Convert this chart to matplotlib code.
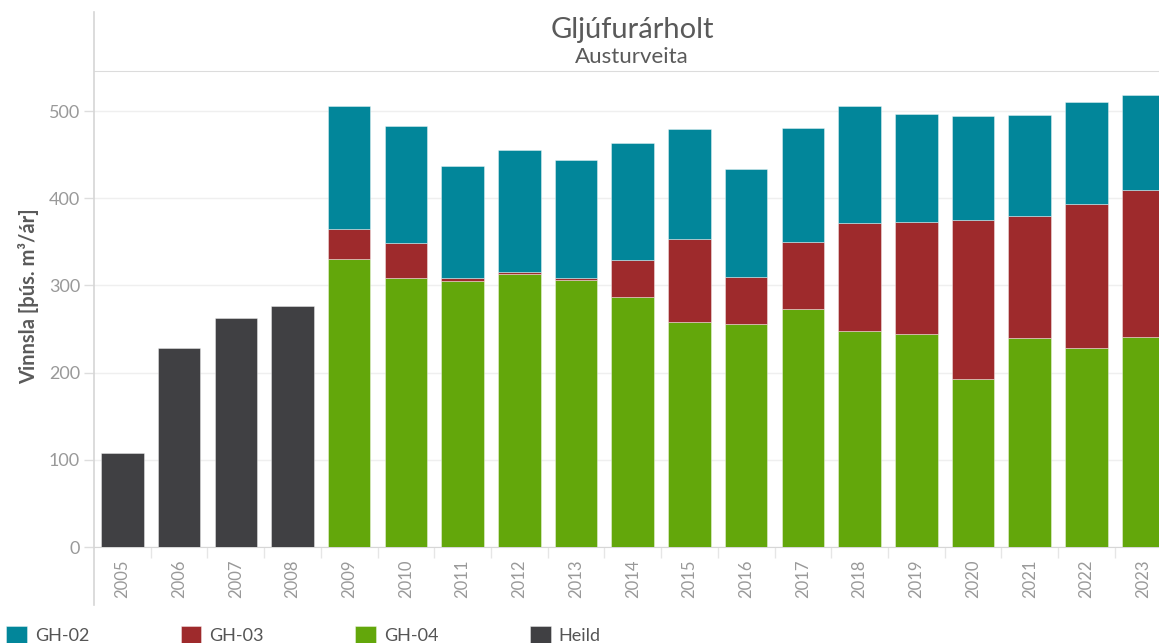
import numpy as np
import matplotlib.pyplot as plt
from matplotlib.lines import Line2D

plt.rcParams['font.family'] = ['Lato', 'DejaVu Sans']

# data (þús. m³/ár)
years = [str(y) for y in range(2005, 2024)]
heild = [108, 228, 263, 277]                      # 2005-2008, total only
gh04 = [330, 309, 305, 313, 306, 287, 258, 256, 273, 248, 244, 193, 240, 228, 241]
gh03 = [35, 40, 3, 2, 2, 42, 95, 54, 77, 124, 129, 182, 140, 166, 168]
gh02 = [141, 134, 129, 140, 136, 134, 126, 124, 131, 134, 124, 119, 116, 116, 110]

c02 = '#02869a'
c03 = '#9e2a2c'
c04 = '#63a70b'
cheild = '#404043'

W, H = 1159, 643
fig = plt.figure(figsize=(W / 100, H / 100), dpi=100)
ax = fig.add_axes([94 / W, 1 - 547 / H, 1 - 94 / W, (547 - 71) / H])

x = np.arange(len(years))
xh = x[:len(heild)]
xs = x[len(heild):]
bw = 0.75
edge = dict(edgecolor=(1, 1, 1, 0.45), linewidth=0.6)

ax.bar(xh, heild, bw, color=cheild, label='Heild', zorder=3, **edge)
ax.bar(xs, gh04, bw, color=c04, label='GH-04', zorder=3, **edge)
ax.bar(xs, gh03, bw, bottom=gh04, color=c03, label='GH-03', zorder=3, **edge)
ax.bar(xs, gh02, bw, bottom=np.add(gh04, gh03), color=c02, label='GH-02', zorder=3, **edge)

ax.set_xlim(-0.5, 18.28)
ax.set_ylim(0, 546)

ax.set_yticks(range(0, 501, 100))
ax.yaxis.grid(True, color='#efefef', linewidth=1, zorder=0)
ax.tick_params(axis='y', length=7, width=1, color='#dddddd', labelcolor='#999999',
               labelsize=13, pad=3)

ax.set_xticks(x)
ax.set_xticklabels(years, rotation=90, color='#999999', fontsize=12)
ax.set_xticks(x[:-1] + 0.5, minor=True)
ax.tick_params(axis='x', which='major', length=0, pad=9)
ax.tick_params(axis='x', which='minor', length=8, width=1, color='#e6e6e6')

ax.spines['right'].set_visible(False)
ax.spines['left'].set_visible(False)
ax.spines['top'].set_color('#dcdcdc')
ax.spines['bottom'].set_color('#d6d6d6')

# left border running from the header down below the tick labels
fig.add_artist(Line2D([94 / W, 94 / W], [1 - 605 / H, 1 - 12 / H],
                      transform=fig.transFigure, color='#d6d6d6', linewidth=1.2))

fig.text(632 / W, 1 - 30 / H, 'Gljúfurárholt', ha='center', va='center',
         fontsize=21, color='#5a5a5a')
fig.text(632 / W, 1 - 57 / H, 'Austurveita', ha='center', va='center',
         fontsize=16, color='#5a5a5a')
fig.text(29 / W, 1 - 296 / H, 'Vinnsla [þús. m³/ár]', rotation=90, ha='center',
         va='center', fontsize=14.5, fontweight='bold', color='#5a5a5a')

handles, labels = ax.get_legend_handles_labels()
order = ['GH-02', 'GH-03', 'GH-04', 'Heild']
hmap = dict(zip(labels, handles))
leg = fig.legend([hmap[k] for k in order], order, ncol=4, loc='lower left',
                 bbox_to_anchor=(-1 / W, -8 / H), frameon=False, fontsize=13,
                 handlelength=1.15, handleheight=1.15, handletextpad=0.45,
                 columnspacing=5.05, borderaxespad=0)
for t in leg.get_texts():
    t.set_color('#555555')

fig.savefig('out.png', dpi=100)
